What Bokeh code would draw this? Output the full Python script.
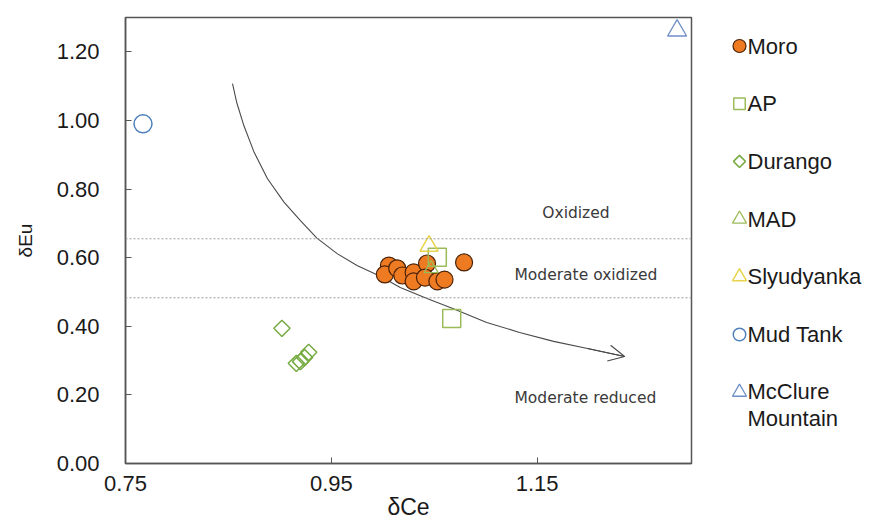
import numpy as np
from bokeh.plotting import figure
from bokeh.layouts import row
from bokeh.core.properties import value
from bokeh.models import (FixedTicker, Span, Label, Arrow, OpenHead, NumeralTickFormatter)
from bokeh.embed import file_html
from bokeh.resources import INLINE

# ---------------- data ----------------
moro_x = [1.006, 1.002, 1.014, 1.019, 1.030, 1.030, 1.043, 1.041, 1.053, 1.060, 1.079]
moro_y = [0.577, 0.551, 0.569, 0.548, 0.557, 0.531, 0.583, 0.542, 0.531, 0.536, 0.586]

ap_x = [1.053, 1.067]
ap_y = [0.601, 0.423]

durango_x = [0.902, 0.916, 0.920, 0.924, 0.928]
durango_y = [0.394, 0.292, 0.297, 0.309, 0.324]

mad_x = [1.047]
mad_y = [0.568]

sly_x = [1.045]
sly_y = [0.634]

mudtank_x = [0.767]
mudtank_y = [0.990]

mcclure_x = [1.286]
mcclure_y = [1.262]

curve_x = [0.854, 0.858, 0.865, 0.875, 0.888, 0.904, 0.920, 0.936, 0.956, 0.975,
           0.998, 1.017, 1.043, 1.068, 1.101, 1.133, 1.166, 1.199, 1.235]
curve_y = [1.107, 1.053, 0.985, 0.907, 0.830, 0.762, 0.708, 0.657, 0.611, 0.577,
           0.545, 0.513, 0.481, 0.452, 0.411, 0.382, 0.356, 0.335, 0.312]

boundary_levels = [0.655, 0.483]

x_ticks = [0.75, 0.95, 1.15]
y_ticks = [0.0, 0.2, 0.4, 0.6, 0.8, 1.0, 1.2]

zone_labels = ["Oxidized", "Moderate oxidized", "Moderate reduced"]
zone_label_x = [1.155, 1.128, 1.128]
zone_label_y = [0.730, 0.550, 0.190]

series_names = ["Moro", "AP", "Durango", "MAD", "Slyudyanka", "Mud Tank", "McClure\nMountain"]

# ---------------- styles ----------------
FONT = "Liberation Sans"
styles = [
    dict(marker="circle", size=17, fill_color="#EE7A22", line_color="#4a2208", line_width=1.2),
    dict(marker="square", size=18, fill_color=None, line_color="#9BBB59", line_width=1.5),
    dict(marker="square", angle=np.pi / 4, size=11.5, fill_color=None, line_color="#77AB43", line_width=1.5),
    dict(marker="triangle", size=14, fill_color=None, line_color="#9BBB59", line_width=1.3),
    dict(marker="triangle", size=18, fill_color=None, line_color="#E8D44D", line_width=1.5),
    dict(marker="circle", size=18, fill_color=None, line_color="#4F81BD", line_width=1.5),
    dict(marker="triangle", size=19, fill_color=None, line_color="#6F8FC8", line_width=1.3),
]
legend_sizes = [13, 11.5, 8.5, 14, 14, 12.5, 14]

BORDER_T, BORDER_B = 17, 64
FIG_H = 527

# ---------------- main figure ----------------
p = figure(width=700, height=FIG_H, x_range=(0.75, 1.30), y_range=(0.0, 1.30),
           output_backend="svg", toolbar_location=None,
           min_border_left=125, min_border_right=9, min_border_top=BORDER_T, min_border_bottom=BORDER_B)
p.xgrid.visible = False
p.ygrid.visible = False
p.outline_line_color = "#555555"
p.outline_line_width = 1.5
p.background_fill_color = "white"
p.border_fill_color = "white"

for ax in (p.xaxis[0], p.yaxis[0]):
    ax.axis_line_color = "#555555"
    ax.axis_line_width = 1.5
    ax.major_tick_line_color = "#555555"
    ax.major_tick_in = 6
    ax.major_tick_out = 0
    ax.minor_tick_line_color = None
    ax.major_label_text_font = FONT
    ax.major_label_text_font_size = "22px"
    ax.major_label_text_color = "#1a1a1a"
    ax.axis_label_text_font = FONT
    ax.axis_label_text_font_style = "normal"
    ax.axis_label_text_color = "#1a1a1a"

p.xaxis.ticker = FixedTicker(ticks=x_ticks)
p.yaxis.ticker = FixedTicker(ticks=y_ticks)
p.xaxis.formatter = NumeralTickFormatter(format="0.00")
p.yaxis.formatter = NumeralTickFormatter(format="0.00")
p.xaxis.axis_label = "δCe"
p.yaxis.axis_label = "δEu"
p.xaxis.axis_label_text_font_size = "23px"
p.yaxis.axis_label_text_font_size = "19px"
p.xaxis.major_label_standoff = 12
p.yaxis.major_label_standoff = 26
p.xaxis.axis_label_standoff = 0
p.yaxis.axis_label_standoff = 18

for lv in boundary_levels:
    p.add_layout(Span(location=lv, dimension="width", line_color="#9a9a9a",
                      line_width=1, line_dash="2 2"))

p.line(curve_x, curve_y, line_color="#4a4a4a", line_width=1.1)
p.add_layout(Arrow(end=OpenHead(size=16, line_color="#4a4a4a", line_width=1.1),
                   x_start=curve_x[-2], y_start=curve_y[-2],
                   x_end=curve_x[-1], y_end=curve_y[-1],
                   line_color="#4a4a4a", line_width=1.1))

for t, lx, ly in zip(zone_labels, zone_label_x, zone_label_y):
    p.add_layout(Label(x=lx, y=ly, text=t, text_font="DejaVu Sans", text_font_size="15.5px",
                       text_color="#3a3a3a", text_align="left", text_baseline="middle"))

series_x = [moro_x, ap_x, durango_x, mad_x, sly_x, mudtank_x, mcclure_x]
series_y = [moro_y, ap_y, durango_y, mad_y, sly_y, mudtank_y, mcclure_y]
for xs, ys, st in zip(series_x, series_y, styles):
    p.scatter(xs, ys, **st)

# ---------------- legend panel (page-pixel coordinates) ----------------
LG_W = 170
lg = figure(width=LG_W, height=FIG_H, x_range=(0, LG_W), y_range=(FIG_H - BORDER_B, BORDER_T),
            output_backend="svg", toolbar_location=None,
            x_axis_type=None, y_axis_type=None,
            min_border_left=0, min_border_right=0, min_border_top=BORDER_T, min_border_bottom=BORDER_B)
lg.xgrid.visible = False
lg.ygrid.visible = False
lg.outline_line_color = None
lg.background_fill_color = "white"
lg.border_fill_color = "white"

row_y0, row_pitch, line_h = 45.5, 57.7, 26
glyph_cx, text_x = 39, 47
for i, (name, st, sz) in enumerate(zip(series_names, styles, legend_sizes)):
    yy = row_y0 + i * row_pitch
    st2 = dict(st)
    st2["size"] = sz
    lg.scatter([glyph_cx], [yy], **st2)
    extra_lines = name.count("\n")
    lg.text([text_x], [yy + extra_lines * line_h / 2], text=[name],
            text_font=value(FONT), text_font_size="22px",
            text_color="#1a1a1a", text_align="left", text_baseline="middle",
            text_line_height=1.08)

open("out.html", "w").write(file_html(row(p, lg), INLINE))
